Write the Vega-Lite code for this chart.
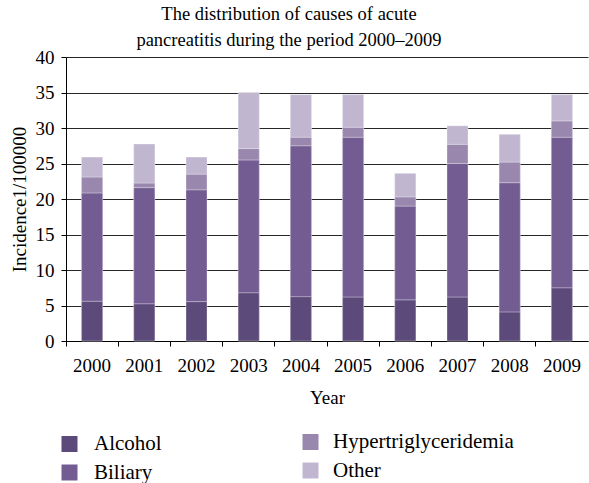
{
  "$schema": "https://vega.github.io/schema/vega-lite/v6.json",
  "width": 522,
  "height": 284,
  "autosize": {"type": "none"},
  "padding": {"left": 66, "top": 57, "right": 1, "bottom": 142},
  "background": "white",
  "title": {
    "text": ["The distribution of causes of acute", "pancreatitis during the period 2000–2009"],
    "font": "Liberation Serif",
    "fontSize": 18.5,
    "fontWeight": "normal",
    "color": "black",
    "lineHeight": 26,
    "anchor": "middle",
    "dx": -38,
    "offset": -1
  },
  "data": {
    "values": [
      {"year": "2000", "cause": "Alcohol", "value": 5.6},
      {"year": "2000", "cause": "Biliary", "value": 15.25},
      {"year": "2000", "cause": "Hypertriglyceridemia", "value": 2.25},
      {"year": "2000", "cause": "Other", "value": 2.8},
      {"year": "2001", "cause": "Alcohol", "value": 5.25},
      {"year": "2001", "cause": "Biliary", "value": 16.35},
      {"year": "2001", "cause": "Hypertriglyceridemia", "value": 0.65},
      {"year": "2001", "cause": "Other", "value": 5.5},
      {"year": "2002", "cause": "Alcohol", "value": 5.55},
      {"year": "2002", "cause": "Biliary", "value": 15.75},
      {"year": "2002", "cause": "Hypertriglyceridemia", "value": 2.2},
      {"year": "2002", "cause": "Other", "value": 2.4},
      {"year": "2003", "cause": "Alcohol", "value": 6.8},
      {"year": "2003", "cause": "Biliary", "value": 18.7},
      {"year": "2003", "cause": "Hypertriglyceridemia", "value": 1.6},
      {"year": "2003", "cause": "Other", "value": 7.9},
      {"year": "2004", "cause": "Alcohol", "value": 6.25},
      {"year": "2004", "cause": "Biliary", "value": 21.25},
      {"year": "2004", "cause": "Hypertriglyceridemia", "value": 1.2},
      {"year": "2004", "cause": "Other", "value": 6.0},
      {"year": "2005", "cause": "Alcohol", "value": 6.2},
      {"year": "2005", "cause": "Biliary", "value": 22.5},
      {"year": "2005", "cause": "Hypertriglyceridemia", "value": 1.4},
      {"year": "2005", "cause": "Other", "value": 4.6},
      {"year": "2006", "cause": "Alcohol", "value": 5.8},
      {"year": "2006", "cause": "Biliary", "value": 13.2},
      {"year": "2006", "cause": "Hypertriglyceridemia", "value": 1.3},
      {"year": "2006", "cause": "Other", "value": 3.3},
      {"year": "2007", "cause": "Alcohol", "value": 6.2},
      {"year": "2007", "cause": "Biliary", "value": 18.8},
      {"year": "2007", "cause": "Hypertriglyceridemia", "value": 2.7},
      {"year": "2007", "cause": "Other", "value": 2.6},
      {"year": "2008", "cause": "Alcohol", "value": 4.1},
      {"year": "2008", "cause": "Biliary", "value": 18.2},
      {"year": "2008", "cause": "Hypertriglyceridemia", "value": 2.9},
      {"year": "2008", "cause": "Other", "value": 3.9},
      {"year": "2009", "cause": "Alcohol", "value": 7.5},
      {"year": "2009", "cause": "Biliary", "value": 21.2},
      {"year": "2009", "cause": "Hypertriglyceridemia", "value": 2.3},
      {"year": "2009", "cause": "Other", "value": 3.7}
    ]
  },
  "encoding": {
    "x": {
      "field": "year",
      "type": "ordinal",
      "title": "Year",
      "scale": {"paddingInner": 0, "paddingOuter": 0},
      "axis": {
        "labelAngle": 0,
        "bandPosition": 0,
        "labelFont": "Liberation Serif",
        "labelFontSize": 19,
        "labelColor": "black",
        "labelPadding": 10,
        "titleFont": "Liberation Serif",
        "titleFontSize": 19,
        "titleFontWeight": "normal",
        "titleColor": "black",
        "titlePadding": 13,
        "domainColor": "black",
        "tickColor": "black",
        "tickSize": 5,
        "grid": false
      }
    },
    "y": {
      "field": "value",
      "type": "quantitative",
      "aggregate": "sum",
      "stack": "zero",
      "title": "Incidence1/100000",
      "scale": {"domain": [0, 40], "nice": false},
      "axis": {
        "values": [0, 5, 10, 15, 20, 25, 30, 35, 40],
        "labelFont": "Liberation Serif",
        "labelFontSize": 19,
        "labelColor": "black",
        "labelPadding": 7,
        "titleFont": "Liberation Serif",
        "titleFontSize": 19,
        "titleFontWeight": "normal",
        "titleColor": "black",
        "titlePadding": 6,
        "domainColor": "black",
        "tickColor": "black",
        "tickSize": 5,
        "grid": true,
        "gridColor": "black",
        "gridWidth": 1.2,
        "gridOpacity": 0.85
      }
    },
    "order": {"field": "cause", "sort": "ascending"}
  },
  "layer": [
    {
      "mark": {"type": "bar", "width": 21, "stroke": "white", "strokeWidth": 0.6, "strokeOpacity": 0.5},
      "encoding": {
        "color": {
          "field": "cause",
          "type": "nominal",
          "scale": {
            "domain": ["Alcohol", "Biliary", "Hypertriglyceridemia", "Other"],
            "range": ["#5c4a7a", "#735c92", "#9987ad", "#c0b6d0"]
          },
          "legend": {
            "title": null,
            "orient": "none",
            "legendX": -7,
            "legendY": 376.5,
            "direction": "vertical",
            "values": ["Alcohol", "Biliary"],
            "symbolType": "square",
            "symbolSize": 256,
            "symbolStrokeWidth": 0,
            "symbolOpacity": 1,
            "labelFont": "Liberation Serif",
            "labelFontSize": 21,
            "labelColor": "black",
            "labelOffset": 14,
            "labelLimit": 300,
            "rowPadding": 6.5
          }
        }
      }
    },
    {
      "mark": {"type": "bar", "width": 21, "stroke": "white", "strokeWidth": 0.6, "strokeOpacity": 0.5},
      "encoding": {
        "fill": {
          "field": "cause",
          "type": "nominal",
          "scale": {
            "domain": ["Hypertriglyceridemia", "Other", "Alcohol", "Biliary"],
            "range": ["#9987ad", "#c0b6d0", "#5c4a7a", "#735c92"]
          },
          "legend": {
            "title": null,
            "orient": "none",
            "legendX": 234,
            "legendY": 374.5,
            "direction": "vertical",
            "values": ["Hypertriglyceridemia", "Other"],
            "symbolType": "square",
            "symbolSize": 256,
            "symbolStrokeWidth": 0,
            "symbolOpacity": 1,
            "labelFont": "Liberation Serif",
            "labelFontSize": 21,
            "labelColor": "black",
            "labelOffset": 12,
            "labelLimit": 300,
            "rowPadding": 6.5
          }
        }
      }
    }
  ],
  "config": {
    "view": {"stroke": null}
  }
}
